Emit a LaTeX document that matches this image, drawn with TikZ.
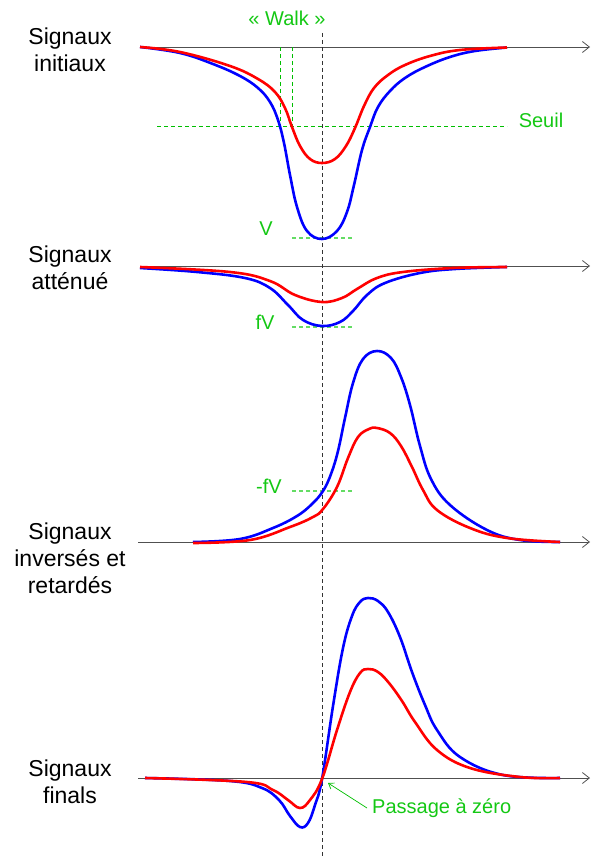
\documentclass[tikz,border=0pt]{standalone}
\usepackage{fontspec}
\setmainfont{Liberation Sans}
\usetikzlibrary{arrows.meta}
\definecolor{gtext}{RGB}{20,200,20}
\definecolor{gline}{RGB}{0,190,0}
\definecolor{gline2}{RGB}{100,220,100}
\definecolor{axisgray}{RGB}{80,80,80}
\tikzset{
  axisline/.style={draw=axisgray, line width=0.9pt, -{Straight Barb[length=7pt,width=11pt,line width=0.8pt]}},
  bluecurve/.style={draw=blue, line width=2.6pt, smooth, tension=0.65},
  redcurve/.style={draw=red, line width=2.6pt, smooth, tension=0.65},
  glabel/.style={text=gtext, font=\fontsize{20}{23}\selectfont, inner sep=0pt},
  siglabel/.style={align=center, font=\fontsize{23}{27}\selectfont, inner sep=0pt},
  gdash/.style={draw=gline, line width=1pt, dash pattern=on 4pt off 3pt},
  gdashlight/.style={draw=gline2, line width=1.3pt, dash pattern=on 4pt off 3pt},
  refline/.style={draw=black!80, line width=1pt, dash pattern=on 4pt off 3pt},
}
\begin{document}
\begin{tikzpicture}[x=1pt,y=-1pt]
\useasboundingbox (0,0) rectangle (591,858);
% labels
\node[siglabel] (l1) at (70,50) {Signaux\\initiaux};
\node[siglabel] (l2) at (70,268) {Signaux\\atténué};
\node[siglabel] (l3) at (70,558.5) {Signaux\\inversés et\\retardés};
\node[siglabel] (l4) at (70,782) {Signaux\\finals};
% axes
\coordinate (a1s) at (140,47); \coordinate (a1e) at (590,47);
\coordinate (a2s) at (140,266); \coordinate (a2e) at (590,266);
\coordinate (a3s) at (138,542); \coordinate (a3e) at (590,542);
\coordinate (a4s) at (138,778); \coordinate (a4e) at (590,778);
\draw[axisline] (a1s) -- (a1e);
\draw[axisline] (a2s) -- (a2e);
\draw[axisline] (a3s) -- (a3e);
\draw[axisline] (a4s) -- (a4e);
% threshold and walk lines
\coordinate (s1) at (157,127); \coordinate (s2) at (507,127);
\draw[gdash] (s1) -- (s2);
\node[glabel] (seuil) at (541,120) {Seuil};
\coordinate (w1t) at (280,47); \coordinate (w1b) at (280,127);
\coordinate (w2t) at (292,47); \coordinate (w2b) at (292,127);
\draw[gdash] (w1t) -- (w1b);
\draw[gdash] (w2t) -- (w2b);
\node[glabel] (walk) at (287,18) {« Walk »};
% V lines
\coordinate (v1) at (292,238); \coordinate (v2) at (352,238);
\draw[gdashlight] (v1) -- (v2);
\node[glabel] (V) at (266,229) {V};
\coordinate (f1) at (292,327); \coordinate (f2) at (352,327);
\draw[gdashlight] (f1) -- (f2);
\node[glabel] (fV) at (265,322) {fV};
\coordinate (m1) at (292,491); \coordinate (m2) at (353,491);
\draw[gdashlight] (m1) -- (m2);
\node[glabel] (mfV) at (269,486) {-fV};
% reference vertical
\coordinate (rt) at (322,33); \coordinate (rb) at (322,858);
\draw[refline] (rt) -- (rb);
% panel 1
\draw[bluecurve] plot coordinates {(140,47) (180,53) (213,64) (240,76) (258,88) (270,102) (278,120) (284,143) (290,175) (297,207) (307,231) (322,239) (337,231) (347,212) (354,185) (362,150) (370,127) (378,107) (390,91) (405,78) (425,67) (450,57) (475,51) (507,47.5)};
\draw[redcurve] plot coordinates {(140,47) (180,52) (230,66) (258,79) (275,92) (285,108) (292,127) (300,146) (310,159) (322,163) (335,159) (346,146) (355,128) (364,106) (374,88) (388,75) (405,65) (430,56) (460,50) (507,47.5)};
% panel 2
\draw[bluecurve] plot coordinates {(140,268) (197,272) (245,278) (270,288) (288,305) (303,320) (322,326) (340,322) (353,311) (367,295) (385,283) (420,273) (455,269) (507,267)};
\draw[redcurve] plot coordinates {(140,267) (230,272) (270,281) (295,295) (322,302) (342,298) (357,289) (377,278) (403,272) (453,268) (507,267)};
% panel 3
\draw[bluecurve] plot coordinates {(193,542) (240,539) (273,528) (297,516) (312,504) (323,491) (331,474) (338,451) (345,418) (353,383) (363,359) (377,351) (391,358) (401,377) (410,405) (420,446) (431,479) (450,505) (487,530) (520,540) (560,542)};
\draw[redcurve] plot coordinates {(193,543) (250,540) (290,527) (313,517) (323,509) (337,487) (348,458) (358,437) (369,429) (377,428) (390,433) (401,446) (412,467) (423,490) (437,510) (470,528) (507,538) (560,542)};
% panel 4
\draw[bluecurve] plot coordinates {(145,778) (230,781) (262,788) (279,800) (290,816) (300,827) (308,823) (315,805) (322,779) (333,706) (343,648) (352,616) (360,602) (368,598) (378,601) (388,612) (400,637) (412,672) (425,705) (437,730) (460,757) (503,775) (560,778)};
\draw[redcurve] plot coordinates {(145,778) (247,782) (273,790) (288,800) (300,808) (310,800) (322,779) (337,730) (350,692) (360,673) (368,669) (378,672) (389,683) (402,701) (415,722) (437,750) (470,768) (520,777) (560,778)};
% zero crossing
\node[glabel, anchor=west] (pz) at (372,808) {Passage à zéro};
\coordinate (zc) at (328,783);
\draw[draw=gline, line width=0.7pt, -{Straight Barb[length=5pt,width=7pt]}] ([xshift=-5pt]pz.west) -- (zc);
\end{tikzpicture}
\end{document}
